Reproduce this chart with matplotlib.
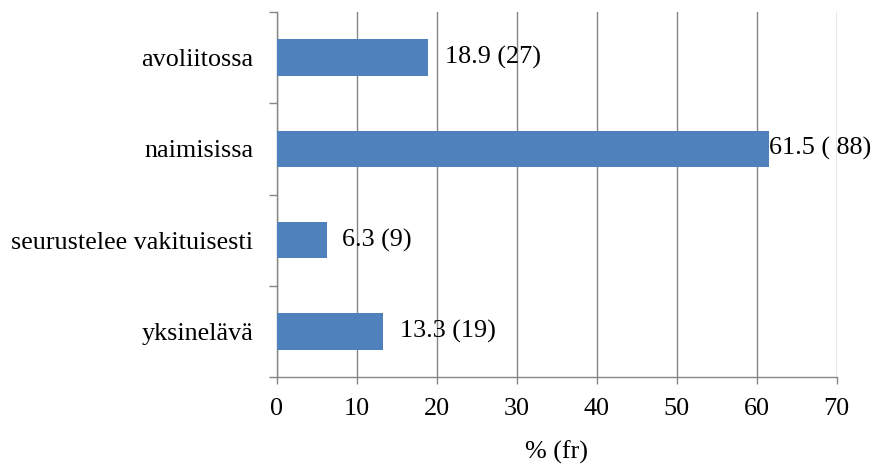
import matplotlib
matplotlib.use("Agg")
import matplotlib.pyplot as plt
import numpy as np

# data (top to bottom as shown)
categories = ["avoliitossa", "naimisissa", "seurustelee vakituisesti", "yksinelävä"]
percent = [18.9, 61.5, 6.3, 13.3]
counts = [27, 88, 9, 19]
value_labels = ["18.9 (27)", "61.5 ( 88)", "6.3 (9)", "13.3 (19)"]
label_offsets = [12, 0, 11, 12]  # points to the right of the bar end
x_ticks = [0, 10, 20, 30, 40, 50, 60, 70]

plt.rcParams["font.family"] = ["Liberation Serif", "DejaVu Serif"]
plt.rcParams["font.size"] = 18.8

GRID = "#868686"
BAR = "#4F81BD"

fig = plt.figure(figsize=(8.72, 4.66), dpi=100)
ax = fig.add_axes([0.3173, 0.191, 0.6422, 0.7832])

n = len(categories)
ypos = np.arange(n)[::-1]  # first category on top
ax.barh(ypos, percent, height=0.4, color=BAR, zorder=3)

for y, v, lab, off in zip(ypos, percent, value_labels, label_offsets):
    ax.annotate(lab, (v, y), xytext=(off, 0), textcoords="offset points",
                va="center", ha="left", color="black", zorder=5)

ax.set_xlim(0, 70)
ax.set_ylim(-0.5, n - 0.5)
ax.set_xticks(x_ticks)
ax.set_xticklabels([str(t) for t in x_ticks])
ax.set_xlabel("% (fr)", labelpad=15)

# category labels on minor ticks, tick marks at boundaries
ax.set_yticks(np.arange(n + 1) - 0.5)
ax.set_yticklabels([])
ax.set_yticks(ypos, minor=True)
ax.set_yticklabels(categories, minor=True)
ax.tick_params(axis="y", which="minor", length=0, pad=17)
ax.tick_params(axis="y", which="major", length=5.5, width=1, color=GRID, direction="out")
ax.tick_params(axis="x", length=5, width=1, color=GRID, direction="out", pad=10)

ax.grid(axis="x", color=GRID, linewidth=1, zorder=0)
ax.set_axisbelow(True)
for side in ("top", "right"):
    ax.spines[side].set_visible(False)
for side in ("left", "bottom"):
    ax.spines[side].set_color(GRID)
    ax.spines[side].set_linewidth(1)

fig.savefig("out.png", dpi=100)
